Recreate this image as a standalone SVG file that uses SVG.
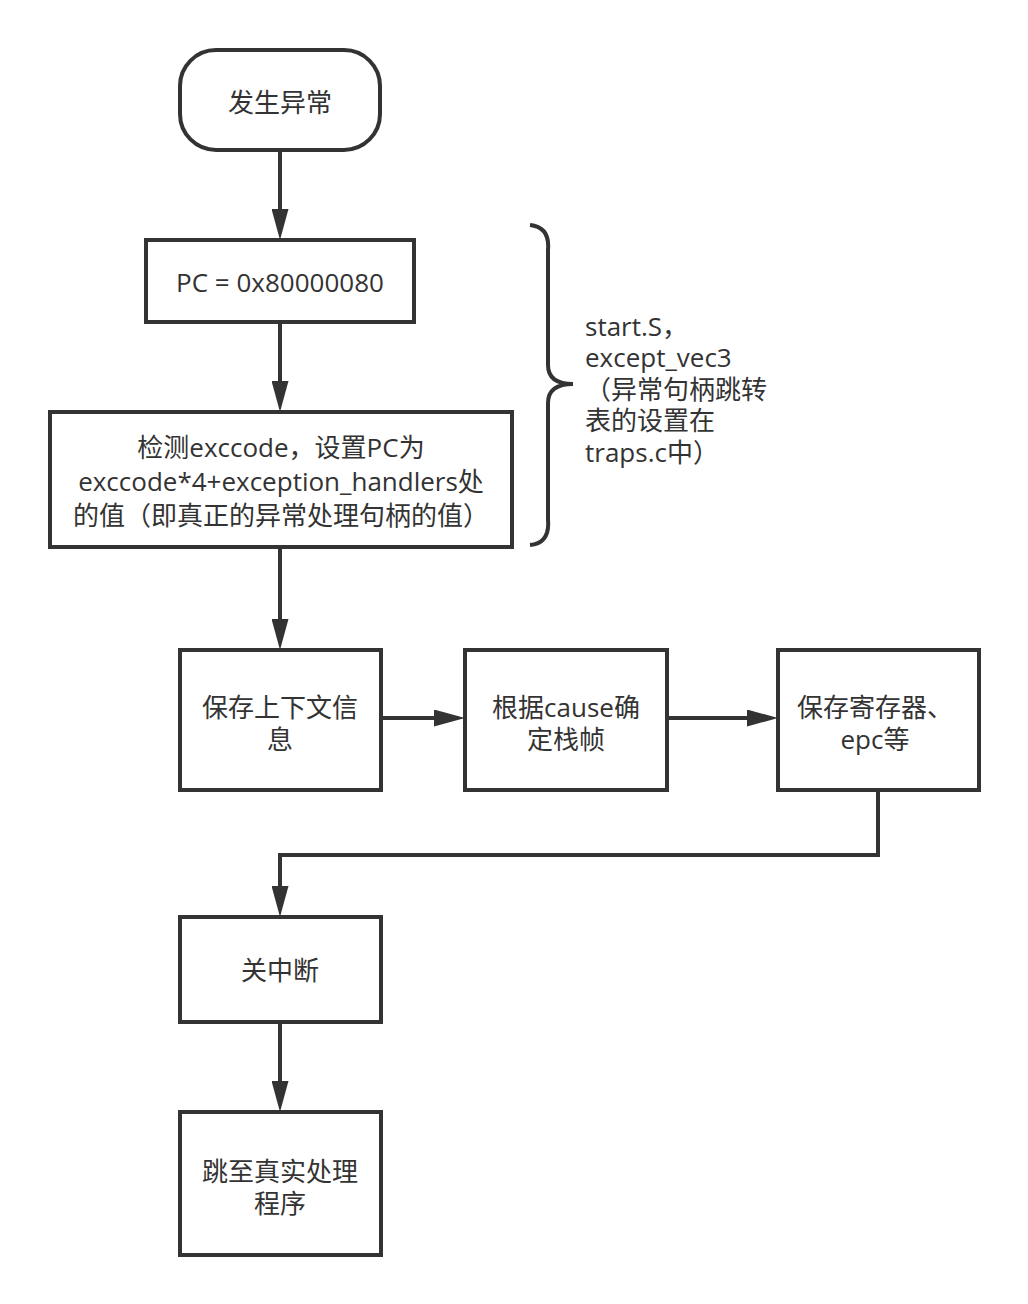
<svg xmlns="http://www.w3.org/2000/svg" width="1028" height="1304" viewBox="0 0 1028 1304">
<style>
.box{fill:#fff;stroke:#333;stroke-width:4}
.t{font-family:"Open Sans","Noto Sans CJK SC",sans-serif;font-size:26px;fill:#333;text-anchor:middle}
.tl{font-family:"Open Sans","Noto Sans CJK SC",sans-serif;font-size:26px;fill:#333}
.c{fill:none;stroke:#333;stroke-width:4}
</style>
<defs>
<marker id="ah" markerUnits="userSpaceOnUse" markerWidth="31" markerHeight="17" viewBox="0 0 31 17" refX="0" refY="8.5" orient="auto">
<path d="M0,0 L31,8.5 L0,17 z" fill="#333"/>
</marker>
</defs>
<rect width="1028" height="1304" fill="#fff"/>
<g id="connectors">
<path class="c" d="M280,150 V209" marker-end="url(#ah)"/>
<path class="c" d="M280,322 V381" marker-end="url(#ah)"/>
<path class="c" d="M280,547 V619" marker-end="url(#ah)"/>
<path class="c" d="M381,718 H434" marker-end="url(#ah)"/>
<path class="c" d="M667,718 H747" marker-end="url(#ah)"/>
<path class="c" d="M878,790 V855 H280 V886" marker-end="url(#ah)"/>
<path class="c" d="M280,1022 V1081" marker-end="url(#ah)"/>
</g>
<g id="start">
<rect class="box" x="180" y="50" width="200" height="100" rx="36" ry="36"/>
<text class="t" x="280" y="112">发生异常</text>
</g>
<g id="setpc">
<rect class="box" x="146" y="240" width="268" height="82"/>
<text class="t" x="280" y="292">PC = 0x80000080</text>
</g>
<g id="detect">
<rect class="box" x="50" y="412" width="462" height="135"/>
<text class="t" x="281" y="457">检测exccode，设置PC为</text>
<text class="t" x="281" y="491">exccode*4+exception_handlers处</text>
<text class="t" x="281" y="525">的值（即真正的异常处理句柄的值）</text>
</g>
<g id="save-ctx">
<rect class="box" x="180" y="650" width="201" height="140"/>
<text class="t" x="280" y="717">保存上下文信</text>
<text class="t" x="280" y="749">息</text>
</g>
<g id="stack">
<rect class="box" x="465" y="650" width="202" height="140"/>
<text class="t" x="566" y="717">根据cause确</text>
<text class="t" x="566" y="749">定栈帧</text>
</g>
<g id="save-reg">
<rect class="box" x="778" y="650" width="201" height="140"/>
<text class="t" x="875" y="717">保存寄存器、</text>
<text class="t" x="875" y="749">epc等</text>
</g>
<g id="irq-off">
<rect class="box" x="180" y="917" width="201" height="105"/>
<text class="t" x="280" y="980">关中断</text>
</g>
<g id="jump">
<rect class="box" x="180" y="1112" width="201" height="143"/>
<text class="t" x="280" y="1181">跳至真实处理</text>
<text class="t" x="280" y="1213">程序</text>
</g>
<g id="note">
<path class="c" d="M530,225 Q550,227 548,250 V365 Q548,384 573,384 Q548,384 548,403 V520 Q550,543 530,545"/>
<text class="tl" x="585" y="336">start.S，</text>
<text class="tl" x="585" y="367">except_vec3</text>
<text class="tl" x="585" y="399">（异常句柄跳转</text>
<text class="tl" x="585" y="430">表的设置在</text>
<text class="tl" x="585" y="462">traps.c中）</text>
</g>
</svg>
